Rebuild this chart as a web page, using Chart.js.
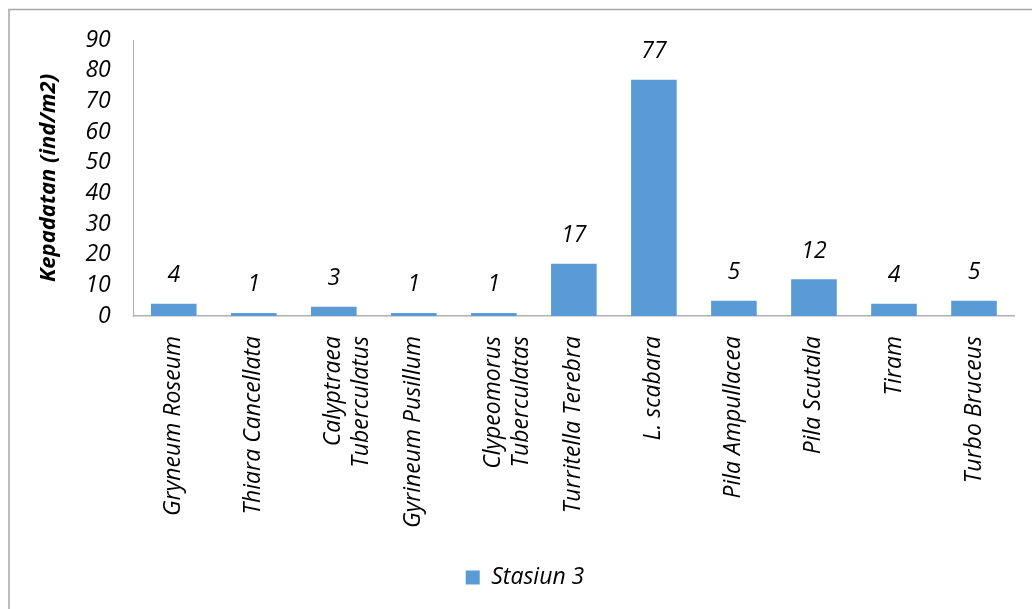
<!DOCTYPE html>
<html>

<head>
    <title>Kepadatan Stasiun 3</title>
    <script src="https://cdn.jsdelivr.net/npm/chart.js@4"></script>
    <style>
        body { margin: 0; background: #fff; }
    </style>
</head>

<body>
    <canvas id="chart" width="1032" height="609"></canvas>
    <script>
        // species names (multi-line ones as arrays)
        const categories = [
            'Gryneum Roseum',
            'Thiara Cancellata',
            ['Calyptraea', 'Tuberculatus'],
            'Gyrineum Pusillum',
            ['Clypeomorus', 'Tuberculatas'],
            'Turritella Terebra',
            'L. scabara',
            'Pila Ampullacea',
            'Pila Scutala',
            'Tiram',
            'Turbo Bruceus'
        ];
        const stasiun3 = [4, 1, 3, 1, 1, 17, 77, 5, 12, 4, 5];
        const yTicks = [0, 10, 20, 30, 40, 50, 60, 70, 80, 90];

        const FONT = '"Open Sans", "Noto Sans", sans-serif';

        // value labels above bars
        const valueLabels = {
            id: 'valueLabels',
            afterDatasetsDraw(chart) {
                const ctx = chart.ctx;
                ctx.save();
                ctx.font = 'italic 23px ' + FONT;
                ctx.fillStyle = '#000';
                ctx.textAlign = 'center';
                ctx.textBaseline = 'middle';
                chart.getDatasetMeta(0).data.forEach((bar, i) => {
                    ctx.fillText(stasiun3[i], bar.x, bar.y - 28);
                });
                ctx.restore();
            }
        };

        // grey frame on top and left
        const frame = {
            id: 'frame',
            beforeDraw(chart) {
                const ctx = chart.ctx;
                ctx.save();
                ctx.strokeStyle = '#a6a6a6';
                ctx.lineWidth = 1.5;
                ctx.beginPath();
                ctx.moveTo(9, chart.height);
                ctx.lineTo(9, 9.5);
                ctx.lineTo(chart.width, 9.5);
                ctx.stroke();
                ctx.restore();
            }
        };

        const chart = new Chart(document.getElementById('chart'), {
            type: 'bar',
            data: {
                labels: categories,
                datasets: [{
                    label: 'Stasiun 3',
                    data: stasiun3,
                    backgroundColor: '#5b9bd5',
                    borderWidth: 0,
                    barPercentage: 0.57,
                    categoryPercentage: 1.0
                }]
            },
            options: {
                responsive: false,
                animation: false,
                layout: {
                    padding: { top: 40, right: 18, left: 36, bottom: 10 }
                },
                scales: {
                    x: {
                        grid: { display: false, drawTicks: false },
                        border: { color: '#b0b0b0', width: 1.5 },
                        ticks: {
                            color: '#000',
                            font: { family: FONT, size: 23, style: 'italic' },
                            minRotation: 90,
                            maxRotation: 90,
                            padding: 20,
                            autoSkip: false
                        }
                    },
                    y: {
                        min: 0,
                        max: 90,
                        afterBuildTicks(scale) {
                            scale.ticks = yTicks.map(v => ({ value: v }));
                        },
                        grid: { display: false, drawTicks: false },
                        border: { color: '#b0b0b0', width: 1 },
                        ticks: {
                            color: '#000',
                            font: { family: FONT, size: 23, style: 'italic' },
                            padding: 23
                        },
                        title: {
                            display: true,
                            text: 'Kepadatan (ind/m2)',
                            color: '#000',
                            font: { family: FONT, size: 22, style: 'italic', weight: 'bold' },
                            padding: 0
                        }
                    }
                },
                plugins: {
                    legend: {
                        position: 'bottom',
                        labels: {
                            color: '#000',
                            font: { family: FONT, size: 23, style: 'italic' },
                            boxWidth: 14,
                            boxHeight: 14,
                            padding: 18
                        }
                    },
                    tooltip: { enabled: false }
                }
            },
            plugins: [frame, valueLabels]
        });
    </script>
</body>

</html>
